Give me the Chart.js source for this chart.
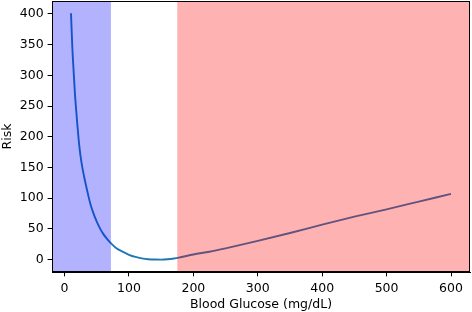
<!DOCTYPE html>
<html lang="en">

<head>
  <meta charset="UTF-8">
  <title>Risk vs Blood Glucose</title>
  <script src="https://cdn.jsdelivr.net/npm/chart.js"></script>
  <style>
    html, body { margin: 0; padding: 0; background: #fff; }
    #wrap { width: 472px; height: 312px; }
  </style>
</head>

<body>
<div id="wrap"><canvas id="myChart" width="472" height="312"></canvas></div>

<script>
  // blood glucose (mg/dL) and risk
  const glucose = [10, 12, 14, 16, 18, 20, 23, 26, 30, 35, 40, 45, 50, 55, 60, 65, 70, 80, 90, 100, 110, 120, 130, 140, 150, 160, 170, 180, 200, 225, 250, 275, 300, 350, 400, 450, 500, 550, 600];
  const risk = [401, 347, 308, 272, 244, 218, 184, 160, 137, 113, 91, 75, 62, 51, 42, 35, 29, 19, 13, 8, 4.5, 2.2, 0.8, 0.2, 0.1, 0.6, 2, 4, 8.5, 13, 18.5, 24.5, 30.5, 43.5, 57, 70, 82, 94.5, 107];

  const xTicks = [0, 100, 200, 300, 400, 500, 600];
  const yTicks = [0, 50, 100, 150, 200, 250, 300, 350, 400];

  // shaded ranges
  const lowLimit = 72;
  const highLimit = 175;

  const FONT = { family: 'DejaVu Sans', size: 12.5 };

  // coloured spans drawn over the line, plus the top/right spines
  const spans = {
    id: 'spans',
    afterDatasetsDraw(chart) {
      const { ctx, chartArea: a, scales: { x } } = chart;
      const xl = x.getPixelForValue(lowLimit);
      const xh = x.getPixelForValue(highLimit);
      ctx.save();
      ctx.fillStyle = 'rgba(0, 0, 255, 0.3)';
      ctx.fillRect(a.left, a.top, xl - a.left, a.bottom - a.top);
      ctx.fillStyle = 'rgba(255, 0, 0, 0.3)';
      ctx.fillRect(xh, a.top, a.right - xh, a.bottom - a.top);
      ctx.strokeStyle = '#000';
      ctx.lineWidth = 1;
      ctx.strokeRect(a.left + 0.5, a.top + 0.5, a.right - a.left - 1, a.bottom - a.top - 1);
      ctx.restore();
    }
  };

  const ctx = document.getElementById('myChart').getContext('2d');
  new Chart(ctx, {
    type: 'line',
    data: {
      datasets: [{
        data: glucose.map((g, i) => ({ x: g, y: risk[i] })),
        borderColor: '#1f77b4',
        borderWidth: 1.9,
        pointRadius: 0,
        cubicInterpolationMode: 'monotone',
        fill: false
      }]
    },
    options: {
      responsive: false,
      animation: false,
      layout: { padding: { top: 1, right: 2, left: 0, bottom: 0 } },
      plugins: { legend: { display: false }, tooltip: { enabled: false } },
      scales: {
        x: {
          type: 'linear',
          min: -19.5,
          max: 629.5,
          afterFit: s => { s.height = 40; s.paddingLeft = 0; s.paddingRight = 0; },
          afterBuildTicks: s => { s.ticks = xTicks.map(v => ({ value: v })); },
          grid: { drawOnChartArea: false, tickLength: 4.4, color: '#000' },
          border: { color: '#000', width: 1 },
          ticks: { color: '#000', font: FONT, padding: 5, maxRotation: 0 },
          title: { display: true, text: 'Blood Glucose (mg/dL)', color: '#000', font: FONT, padding: { top: 0, bottom: 0 } }
        },
        y: {
          type: 'linear',
          min: -20.05,
          max: 421.05,
          afterFit: s => { s.width = 52; s.paddingTop = 0; s.paddingBottom = 0; },
          afterBuildTicks: s => { s.ticks = yTicks.map(v => ({ value: v })); },
          grid: { drawOnChartArea: false, tickLength: 4.4, color: '#000' },
          border: { color: '#000', width: 1 },
          ticks: { color: '#000', font: FONT, padding: 4 },
          title: { display: true, text: 'Risk', color: '#000', font: FONT, padding: { top: 0, bottom: 0 } }
        }
      }
    },
    plugins: [spans]
  });
</script>
</body>

</html>
